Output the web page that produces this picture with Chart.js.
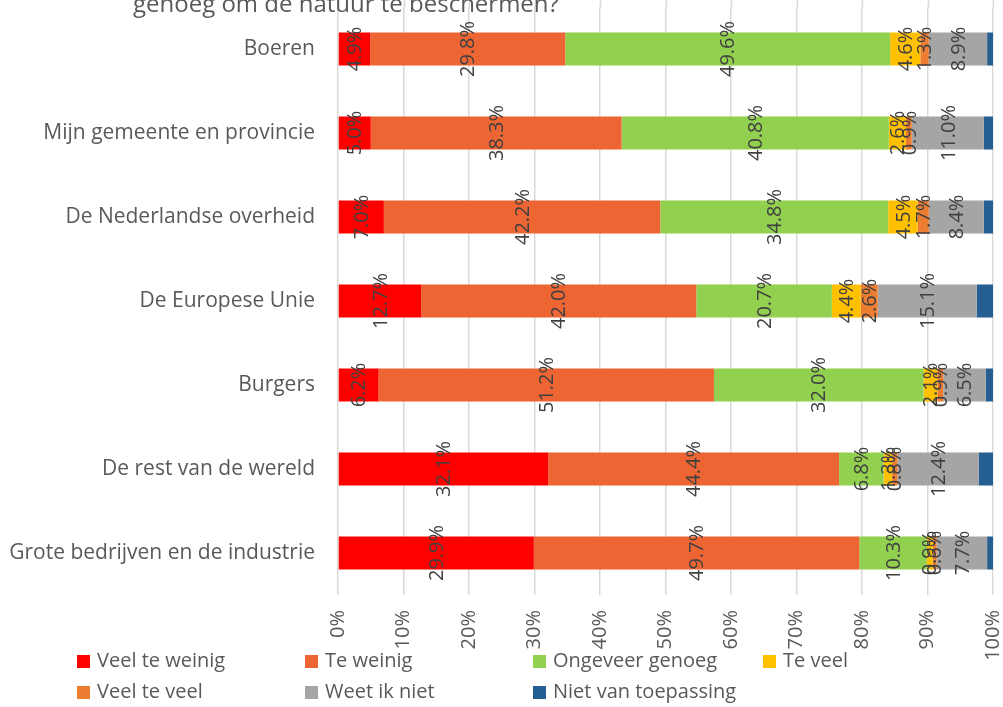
<!DOCTYPE html>
<html>
<head>
<meta charset="utf-8">
<script src="https://cdn.jsdelivr.net/npm/chart.js@4/dist/chart.umd.min.js"></script>
<style>
  html, body { margin: 0; padding: 0; background: #ffffff; }
  #wrap { position: relative; width: 1003px; height: 707px; }
  #c { position: absolute; left: 0; top: 0; }
  .lg { position: absolute; font-family: 'Open Sans', sans-serif; font-size: 20px; color: #595959; line-height: 1; white-space: nowrap; }
  .lg i { display: inline-block; width: 13px; height: 13px; margin-right: 7px; vertical-align: -1px; }
</style>
</head>
<body>
<div id="wrap">
  <canvas id="c" width="1003" height="707"></canvas>
  <div id="legend"></div>
</div>
<script>
const titleText = 'genoeg om de natuur te beschermen?';
const categories = [
  'Boeren',
  'Mijn gemeente en provincie',
  'De Nederlandse overheid',
  'De Europese Unie',
  'Burgers',
  'De rest van de wereld',
  'Grote bedrijven en de industrie'
];
const seriesNames = ['Veel te weinig', 'Te weinig', 'Ongeveer genoeg', 'Te veel', 'Veel te veel', 'Weet ik niet', 'Niet van toepassing'];
const veelTeWeinig      = [4.9, 5.0, 7.0, 12.7, 6.2, 32.1, 29.9];
const teWeinig          = [29.8, 38.3, 42.2, 42.0, 51.2, 44.4, 49.7];
const ongeveerGenoeg    = [49.6, 40.8, 34.8, 20.7, 32.0, 6.8, 10.3];
const teVeel            = [4.6, 2.6, 4.5, 4.4, 2.1, 1.3, 0.9];
const veelTeVeel        = [1.3, 0.9, 1.7, 2.6, 0.9, 0.8, 0.6];
const weetIkNiet        = [8.9, 11.0, 8.4, 15.1, 6.5, 12.4, 7.7];
const nietVanToepassing = [0.9, 1.4, 1.4, 2.5, 1.1, 2.2, 0.9];
const xTicks = [0, 10, 20, 30, 40, 50, 60, 70, 80, 90, 100];

const seriesValues = [veelTeWeinig, teWeinig, ongeveerGenoeg, teVeel, veelTeVeel, weetIkNiet, nietVanToepassing];
const colors = ['#FF0000', '#EC6533', '#92D050', '#FFC000', '#ED7D31', '#A5A5A5', '#255E91'];
const showLabel = [true, true, true, true, true, true, false];

const datasets = seriesNames.map((n, i) => ({
  label: n,
  data: seriesValues[i],
  backgroundColor: colors[i],
  borderWidth: 0,
  categoryPercentage: 1,
  barPercentage: 0.393
}));

const labelPlugin = {
  id: 'segLabels',
  afterDatasetsDraw(chart) {
    const ctx = chart.ctx;
    ctx.save();
    ctx.font = '20px "Open Sans"';
    ctx.fillStyle = '#404040';
    ctx.textAlign = 'center';
    ctx.textBaseline = 'middle';
    chart.data.datasets.forEach((ds, di) => {
      if (!showLabel[di]) return;
      const meta = chart.getDatasetMeta(di);
      meta.data.forEach((el, j) => {
        const v = ds.data[j];
        const cx = (el.x + el.base) / 2;
        const cy = el.y;
        ctx.save();
        ctx.translate(cx, cy);
        ctx.rotate(-Math.PI / 2);
        ctx.fillText(v.toFixed(1) + '%', 0, 1);
        ctx.restore();
      });
    });
    ctx.restore();
  }
};

const extraGridPlugin = {
  id: 'extraGrid',
  beforeDatasetsDraw(chart) {
    const ctx = chart.ctx;
    const xs = chart.scales.x;
    ctx.save();
    ctx.strokeStyle = '#d9d9d9';
    ctx.lineWidth = 1.5;
    xTicks.forEach(v => {
      const px = Math.round(xs.getPixelForValue(v)) + 0.5;
      ctx.beginPath();
      ctx.moveTo(px, 0);
      ctx.lineTo(px, chart.chartArea.top);
      ctx.stroke();
    });
    ctx.restore();
  }
};

const titlePlugin = {
  id: 'cutTitle',
  afterDraw(chart) {
    const ctx = chart.ctx;
    ctx.save();
    ctx.font = '24px "Open Sans"';
    ctx.fillStyle = '#595959';
    ctx.textAlign = 'left';
    ctx.textBaseline = 'alphabetic';
    ctx.fillText(titleText, 133, 12);
    ctx.restore();
  }
};

const chart = new Chart(document.getElementById('c'), {
  type: 'bar',
  data: { labels: categories, datasets },
  options: {
    indexAxis: 'y',
    responsive: false,
    animation: false,
    layout: { padding: { top: 7, right: 10, bottom: 0, left: 0 } },
    plugins: { legend: { display: false }, title: { display: false }, tooltip: { enabled: false } },
    scales: {
      x: {
        stacked: true,
        min: 0, max: 100,
        afterBuildTicks(scale) { scale.ticks = xTicks.map(v => ({ value: v })); },
        afterFit(scale) { scale.height = 112; scale.paddingLeft = 0; scale.paddingRight = 0; },
        ticks: {
          callback: v => v + '%',
          minRotation: 90, maxRotation: 90,
          padding: 15,
          font: { family: 'Open Sans', size: 20 },
          color: '#595959'
        },
        grid: { color: '#d9d9d9', lineWidth: 1.5, drawTicks: false },
        border: { display: false }
      },
      y: {
        stacked: true,
        afterFit(scale) { scale.width = 338; scale.paddingTop = 0; scale.paddingBottom = 0; },
        ticks: {
          padding: 23,
          font: { family: 'Open Sans', size: 21 },
          color: '#595959'
        },
        grid: { display: false, drawTicks: false },
        border: { display: false }
      }
    }
  },
  plugins: [extraGridPlugin, labelPlugin, titlePlugin]
});

// HTML legend built from chart datasets
const legendPos = [
  [77, 650], [305, 650], [533, 650], [763, 650],
  [77, 681], [305, 681], [533, 681]
];
const lg = document.getElementById('legend');
chart.data.datasets.forEach((ds, i) => {
  const d = document.createElement('div');
  d.className = 'lg';
  d.style.left = legendPos[i][0] + 'px';
  d.style.top = legendPos[i][1] + 'px';
  d.innerHTML = '<i style="background:' + ds.backgroundColor + '"></i>' + ds.label;
  lg.appendChild(d);
});
</script>
</body>
</html>
